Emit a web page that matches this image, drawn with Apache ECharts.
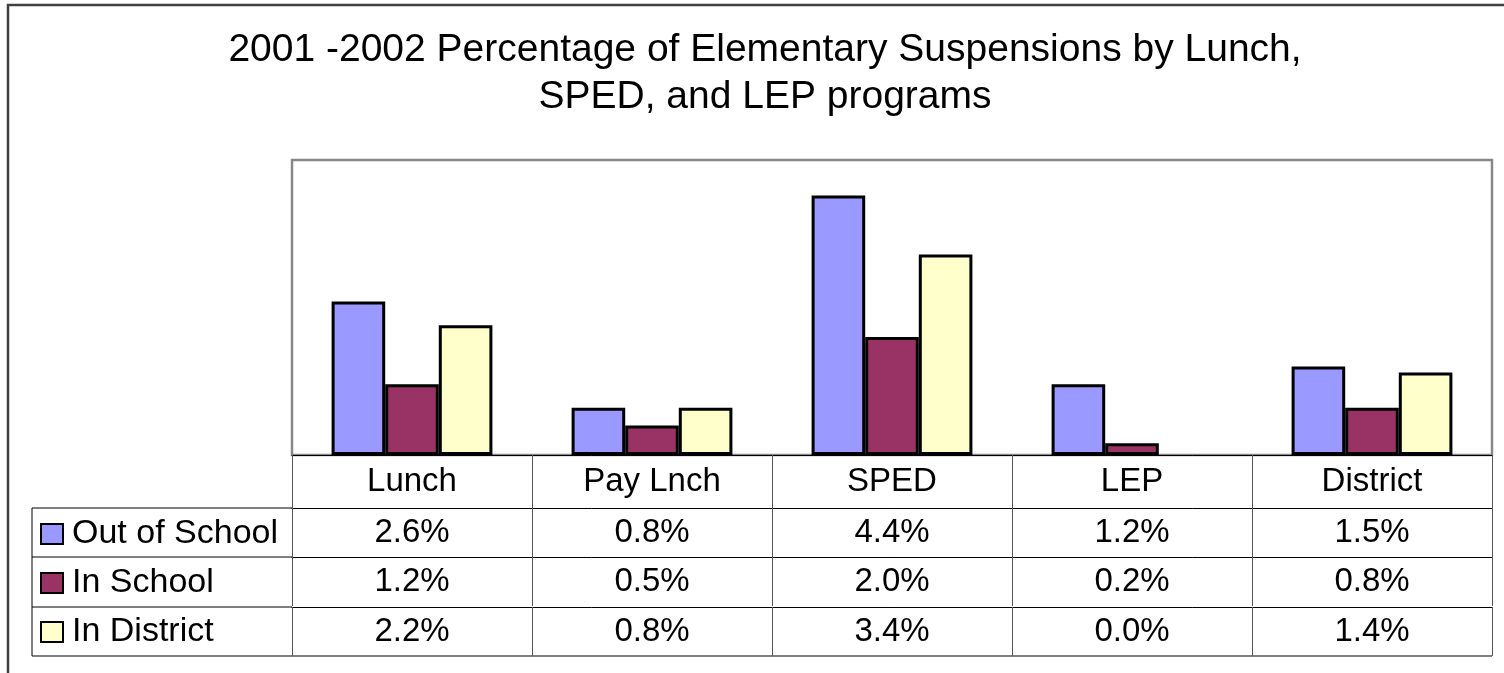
<!DOCTYPE html>
<html>
<head>
<meta charset="utf-8">
<title>Elementary Suspensions 2001-2002</title>
<script src="https://cdn.jsdelivr.net/npm/echarts@6/dist/echarts.min.js"></script>
<style>
  html, body { margin: 0; padding: 0; background: #fff; }
  #main { width: 1504px; height: 673px; }
</style>
</head>
<body>
<div id="main"></div>
<script>
// 数据
const categories = ['Lunch', 'Pay Lnch', 'SPED', 'LEP', 'District'];
const seriesNames = ['Out of School', 'In School', 'In District'];
const outOfSchool = [2.6, 0.8, 4.4, 1.2, 1.5];
const inSchool = [1.2, 0.5, 2.0, 0.2, 0.8];
const inDistrict = [2.2, 0.8, 3.4, 0.0, 1.4];
const colors = ['#9999FF', '#993366', '#FFFFCC'];

const rows = [outOfSchool, inSchool, inDistrict];
const font = 'Liberation Sans, Arial, sans-serif';

// 表格的每一行用一条偏移的x轴来画
function rowAxis(k, offset) {
    return {
        type: 'category',
        data: categories,
        position: 'bottom',
        offset: offset,
        axisLine: { show: true, lineStyle: { color: '#000', width: 1 } },
        axisTick: { show: true, length: 49, lineStyle: { color: '#555', width: 1 } },
        axisLabel: {
            color: '#000', fontSize: 33, fontFamily: font, lineHeight: 33, margin: 8,
            formatter: function (v, i) { return rows[k][i].toFixed(1) + '%'; }
        }
    };
}

const myChart = echarts.init(document.getElementById('main'));

const option = {
    animation: false,
    title: {
        text: '2001 -2002 Percentage of Elementary Suspensions by Lunch,\nSPED, and LEP programs',
        left: 760,
        textAlign: 'center',
        top: 22,
        textStyle: { color: '#000', fontSize: 39, fontWeight: 'normal', fontFamily: font, lineHeight: 47 }
    },
    legend: {
        orient: 'vertical',
        left: 40,
        top: 517,
        padding: 0,
        itemWidth: 22,
        itemHeight: 20,
        itemGap: 15,
        icon: 'rect',
        data: seriesNames,
        textStyle: { color: '#000', fontSize: 34, fontFamily: font, lineHeight: 34, padding: [0, 0, 0, 4] }
    },
    grid: {
        left: 292,
        top: 160,
        width: 1200,
        height: 295,
        show: true,
        borderColor: '#888',
        borderWidth: 2.5,
        containLabel: false
    },
    xAxis: [
        {
            type: 'category',
            data: categories,
            position: 'bottom',
            axisLine: { show: true, lineStyle: { color: '#000', width: 1 } },
            axisTick: { show: true, length: 53, lineStyle: { color: '#555', width: 1 } },
            axisLabel: { color: '#000', fontSize: 33, fontFamily: font, lineHeight: 33, margin: 10 }
        },
        rowAxis(0, 53),
        rowAxis(1, 102),
        rowAxis(2, 152)
    ],
    yAxis: {
        type: 'value',
        min: 0,
        max: 5,
        show: false,
        splitLine: { show: false }
    },
    series: seriesNames.map(function (name, i) {
        return {
            name: name,
            type: 'bar',
            // 0 的柱子不画边框
            data: rows[i].map(function (v) {
                return v === 0 ? { value: v, itemStyle: { borderWidth: 0 } } : v;
            }),
            barGap: '0%',
            barCategoryGap: '33%',
            itemStyle: { color: colors[i], borderColor: '#000', borderWidth: 3 }
        };
    }),
    graphic: [
        // 外框
        { type: 'polyline', shape: { points: [[8, 673], [8, 5], [1504, 5]] },
          style: { stroke: '#404040', lineWidth: 2.5, fill: null } },
        // 图例那一列的表格线
        { type: 'polyline', shape: { points: [[292, 508], [32, 508], [32, 656], [1492, 656]] },
          style: { stroke: '#000', lineWidth: 1, fill: null } },
        { type: 'line', shape: { x1: 32, y1: 557, x2: 292, y2: 557 }, style: { stroke: '#000', lineWidth: 1 } },
        { type: 'line', shape: { x1: 32, y1: 607, x2: 292, y2: 607 }, style: { stroke: '#000', lineWidth: 1 } }
    ]
};

myChart.setOption(option);
</script>
</body>
</html>
